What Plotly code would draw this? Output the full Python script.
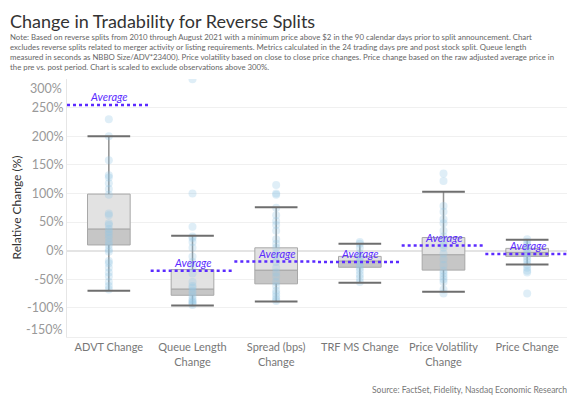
import plotly.graph_objects as go

categories = ["ADVT Change", "Queue Length<br>Change", "Spread (bps)<br>Change",
              "TRF MS Change", "Price Volatility<br>Change", "Price Change"]
upper_whisker = [200, 26, 76, 12, 103, 19]
q3 = [99, -33, 5, -10, 23, 4]
median = [38, -67, -34, -18, -7, -3]
q1 = [10, -78, -58, -29, -34, -10]
lower_whisker = [-70, -96, -89, -56, -72, -24]
averages = [255, -35, -19, -20, 9, -6]

advt_points = [230, 200, 158, 132, 128, 118, 108, 98, 65, 62, 48, 45, 38, 33, 28, 22, 15, 10, 2, -2, -18, -22, -30, -38, -45, -55, -62, -68]
queue_points = [300, 100, 42, 25, 22, 15, 5, -10, -20, -30, -40, -55, -62, -65, -70, -75, -80, -85, -88, -90, -92, -95]
spread_points = [115, 100, 98, 75, 62, 52, 45, 35, 20, 12, 5, -5, -10, -20, -30, -38, -45, -55, -62, -70, -75, -80, -85, -88]
trf_points = [15, 12, 5, -5, -10, -15, -20, -25, -30, -35, -42, -48, -55]
pvol_points = [135, 122, 78, 68, 55, 48, 35, 25, 15, 10, 5, -5, -15, -25, -35, -40, -45, -50, -55, -68, -75]
price_points = [20, 15, 10, 5, 0, -5, -10, -15, -20, -25, -30, -35, -38, -75]

y_ticks = [-150, -100, -50, 0, 50, 100, 150, 200, 250, 300]
edge_ticks = [-150, 300]

FONT = "Lato"
AVG_COLOR = "#5b2bff"
xs = list(range(len(categories)))
BOX_W = 0.51

fig = go.Figure()

# box lower (median -> q1), darker
fig.add_trace(go.Bar(x=xs, y=[m - a for m, a in zip(median, q1)], base=q1, width=BOX_W,
                     marker=dict(color="#c6c6c6", line=dict(color="#a8a8a8", width=1)),
                     hoverinfo="skip"))
# box upper (q3 -> median), lighter
fig.add_trace(go.Bar(x=xs, y=[t - m for t, m in zip(q3, median)], base=median, width=BOX_W,
                     marker=dict(color="#e2e2e2", line=dict(color="#a8a8a8", width=1)),
                     hoverinfo="skip"))

# whisker stems
sx, sy = [], []
for i in xs:
    sx += [i, i, None, i, i, None]
    sy += [upper_whisker[i], q3[i], None, q1[i], lower_whisker[i], None]
fig.add_trace(go.Scatter(x=sx, y=sy, mode="lines", line=dict(color="#8f8f8f", width=1.5),
                         hoverinfo="skip"))

# points
all_points = [advt_points, queue_points, spread_points, trf_points, pvol_points, price_points]
px, py = [], []
for i, pts in enumerate(all_points):
    px += [i] * len(pts)
    py += pts
fig.add_trace(go.Scatter(x=px, y=py, mode="markers",
                         marker=dict(color="rgba(150,200,230,0.3)", size=8, line=dict(width=0)),
                         hoverinfo="skip"))

# whisker caps
cx, cy = [], []
for i in xs:
    cx += [i - BOX_W / 2, i + BOX_W / 2, None, i - BOX_W / 2, i + BOX_W / 2, None]
    cy += [upper_whisker[i], upper_whisker[i], None, lower_whisker[i], lower_whisker[i], None]
fig.add_trace(go.Scatter(x=cx, y=cy, mode="lines", line=dict(color="#6e6e6e", width=2),
                         hoverinfo="skip"))

# averages
ax, ay = [], []
for i in xs:
    ax += [i - 0.5, i + 0.5, None]
    ay += [averages[i], averages[i], None]
fig.add_trace(go.Scatter(x=ax, y=ay, mode="lines", line=dict(color=AVG_COLOR, width=2.5, dash="dot"),
                         hoverinfo="skip"))

annotations = []
for i in xs:
    annotations.append(dict(x=i, y=averages[i], xref="x", yref="y", text="<i>Average</i>",
                            showarrow=False, yanchor="bottom", yshift=0,
                            font=dict(family=FONT, size=11, color=AVG_COLOR)))

# edge tick labels nudged inward (as in the reference)
for v in edge_ticks:
    annotations.append(dict(x=0, y=v, xref="paper", yref="y", xanchor="right", yanchor="middle",
                            xshift=-3, yshift=(-9 if v > 0 else 7), text=f"{v}%", showarrow=False,
                            font=dict(family=FONT, size=12.5, color="#999999")))

annotations += [
    dict(x=-0.1175, y=1.225, xref="paper", yref="paper", xanchor="left", yanchor="middle",
         text="Change in Tradability for Reverse Splits", showarrow=False,
         font=dict(family=FONT, size=18, color="#333333")),
    dict(x=-0.1175, y=1.19, xref="paper", yref="paper", xanchor="left", yanchor="top", align="left",
         text=("Note: Based on reverse splits from 2010 through August 2021 with a minimum price above $2 in the 90 calendar days prior to split announcement. Chart<br>"
               "excludes reverse splits related to merger activity or listing requirements. Metrics calculated in the 24 trading days pre and post stock split. Queue length<br>"
               "measured in seconds as NBBO Size/ADV*23400). Price volatility based on close to close price changes. Price change based on the raw adjusted average price in<br>"
               "the pre vs. post period. Chart is scaled to exclude observations above 300%."),
         showarrow=False, font=dict(family=FONT, size=7.8, color="#666666")),
    dict(x=-0.1006, y=0.504, xref="paper", yref="paper", xanchor="center", yanchor="middle",
         text="Relative Change (%)", textangle=-90, showarrow=False,
         font=dict(family=FONT, size=12, color="#333333")),
    dict(x=1.0, y=-0.205, xref="paper", yref="paper", xanchor="right", yanchor="middle",
         text="Source: FactSet, Fidelity, Nasdaq Economic Research", showarrow=False,
         font=dict(family=FONT, size=8.5, color="#777777")),
]

fig.update_layout(
    width=567, height=392,
    margin=dict(l=59, r=6, t=71, b=63),
    paper_bgcolor="white", plot_bgcolor="white",
    showlegend=False, barmode="overlay",
    annotations=annotations,
    xaxis=dict(range=[-0.5, 5.5], tickvals=xs, ticktext=categories,
               tickfont=dict(family=FONT, size=11, color="#777777"),
               showgrid=False, zeroline=False, showline=True, linecolor="#eeeeee", ticks=""),
    yaxis=dict(range=[-151, 300.3], tickvals=y_ticks,
               ticktext=["" if v in edge_ticks else f"{v}%" for v in y_ticks],
               tickfont=dict(family=FONT, size=12.5, color="#999999"),
               showgrid=True, gridcolor="#f0f0f0", zeroline=True, zerolinecolor="#e4e4e4",
               showline=True, linecolor="#e6e6e6", ticks=""),
)

fig.write_html("out.html")
